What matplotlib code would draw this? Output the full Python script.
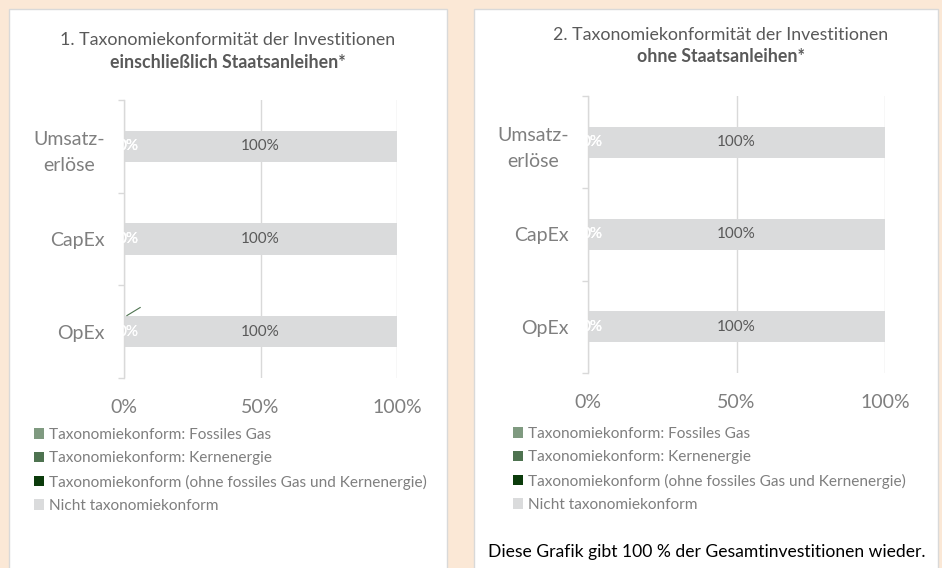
import matplotlib
matplotlib.use("Agg")
import matplotlib.pyplot as plt
from matplotlib.patches import Rectangle, Patch
import numpy as np

plt.rcParams['font.family'] = ['Lato', 'DejaVu Sans']

# ---------------- data ----------------
categories = ["Umsatz-\nerlöse", "CapEx", "OpEx"]
series_names = ["Taxonomiekonform: Fossiles Gas",
                "Taxonomiekonform: Kernenergie",
                "Taxonomiekonform (ohne fossiles Gas und Kernenergie)",
                "Nicht taxonomiekonform"]
series_colors = ["#7f9a80", "#4e7350", "#0b3b0b", "#dadbdc"]

# chart 1: including sovereign bonds
incl_gas = [0, 0, 0]
incl_nuclear = [0, 0, 0]
incl_aligned = [0, 0, 0]
incl_not = [100, 100, 100]

# chart 2: excluding sovereign bonds
excl_gas = [0, 0, 0]
excl_nuclear = [0, 0, 0]
excl_aligned = [0, 0, 0]
excl_not = [100, 100, 100]

xticks = [0, 50, 100]
xticklabels = ["0%", "50%", "100%"]

titles1 = ["1. Taxonomiekonformität der Investitionen", "einschließlich Staatsanleihen*"]
titles2 = ["2. Taxonomiekonformität der Investitionen", "ohne Staatsanleihen*"]
footer = "Diese Grafik gibt 100 % der Gesamtinvestitionen wieder."

# ---------------- layout ----------------
W, H = 942, 568
fig = plt.figure(figsize=(W / 100, H / 100), dpi=100)
fig.patch.set_facecolor("#fbe8d6")

def fx(px):
    return px / W

def fy(py):
    return 1 - py / H

# white panels
for (x0, x1) in [(9, 447), (474, 938)]:
    fig.patches.append(Rectangle((fx(x0), fy(575)), fx(x1 - x0), (575 - 9) / H,
                                 transform=fig.transFigure, facecolor="white",
                                 edgecolor="#d9d9d9", linewidth=1, zorder=-5))

text_gray = "#7f7f7f"
dark_gray = "#595959"
grid_gray = "#d9d9d9"


def draw_chart(ax_box, series, title_lines, title_pos, legend_pos, leader=False):
    x0, x1, ytop, ybot = ax_box
    ax = fig.add_axes([fx(x0), fy(ybot), fx(x1 - x0), (ybot - ytop) / H])
    ax.set_facecolor("none")
    ax.set_zorder(2)
    y = np.arange(len(categories))
    left = np.zeros(len(categories))
    for vals, name, col in zip(series, series_names, series_colors):
        vals = np.array(vals, dtype=float)
        ax.barh(y, vals, left=left, height=0.335, color=col, label=name, zorder=2)
        for yi, (l, v) in enumerate(zip(left, vals)):
            if v == 0:
                if not (leader and yi == 2 and name == series_names[1]):
                    ax.text(l + 1.5, yi, "0%", ha="center", va="center", color="white",
                            fontsize=11, zorder=3)
            else:
                ax.text(l + v / 2, yi, f"{v:.0f}%", ha="center", va="center",
                        color=dark_gray, fontsize=11, zorder=3)
        left = left + vals
    if leader:
        ax.annotate("0%", xy=(1.0, 2 - 0.335 / 2 - 0.005), xytext=(7.0, 1.72),
                    color="white", fontsize=11, ha="left", va="center",
                    arrowprops=dict(arrowstyle="-", color="#4e7350", lw=0.8,
                                    shrinkA=0, shrinkB=0,
                                    relpos=(0.0, 0.5)), zorder=3,
                    annotation_clip=False)
    ax.set_xlim(0, 100)
    ax.set_ylim(len(categories) - 0.5, -0.5)
    ax.set_xticks(xticks)
    ax.set_xticklabels(xticklabels)
    ax.set_yticks(y)
    ax.set_yticklabels(categories, multialignment="center", linespacing=1.65)
    ax.set_yticks(np.arange(len(categories) + 1) - 0.5, minor=True)
    ax.tick_params(axis="y", which="major", length=0, pad=14, labelsize=14,
                   labelcolor=text_gray)
    ax.tick_params(axis="y", which="minor", length=4, color=grid_gray, width=1)
    ax.tick_params(axis="x", which="major", length=0, pad=15, labelsize=14,
                   labelcolor=text_gray)
    for s in ["top", "right", "bottom"]:
        ax.spines[s].set_visible(False)
    ax.spines["left"].set_color(grid_gray)
    ax.spines["left"].set_linewidth(1)
    ax.xaxis.grid(True, color=grid_gray, linewidth=1, zorder=0)
    ax.set_axisbelow(True)

    cx, y1, y2 = title_pos
    fig.text(fx(cx), fy(y1), title_lines[0], ha="center", va="center",
             fontsize=12.8, color=dark_gray)
    fig.text(fx(cx), fy(y2), title_lines[1], ha="center", va="center",
             fontsize=12.8, color=dark_gray, fontweight="bold")

    lx, ly = legend_pos
    hs = [Patch(facecolor=c, edgecolor="none") for c in series_colors]
    fig.legend(hs, series_names, loc="upper left",
               bbox_to_anchor=(fx(lx), fy(ly)), frameon=False,
               fontsize=11.1, handlelength=0.65, handleheight=0.65,
               handletextpad=0.3, labelspacing=0.6, borderpad=0,
               borderaxespad=0, labelcolor=text_gray)
    return ax


draw_chart((124, 397, 100, 378),
           [incl_gas, incl_nuclear, incl_aligned, incl_not],
           titles1, (228, 40, 63), (34, 428), leader=True)
draw_chart((588, 885, 96, 373),
           [excl_gas, excl_nuclear, excl_aligned, excl_not],
           titles2, (721, 35, 56), (513, 427))

fig.text(fx(707), fy(552), footer, ha="center", va="center", fontsize=12.6,
         color="black")

fig.savefig("out.png", dpi=100, facecolor=fig.get_facecolor())
